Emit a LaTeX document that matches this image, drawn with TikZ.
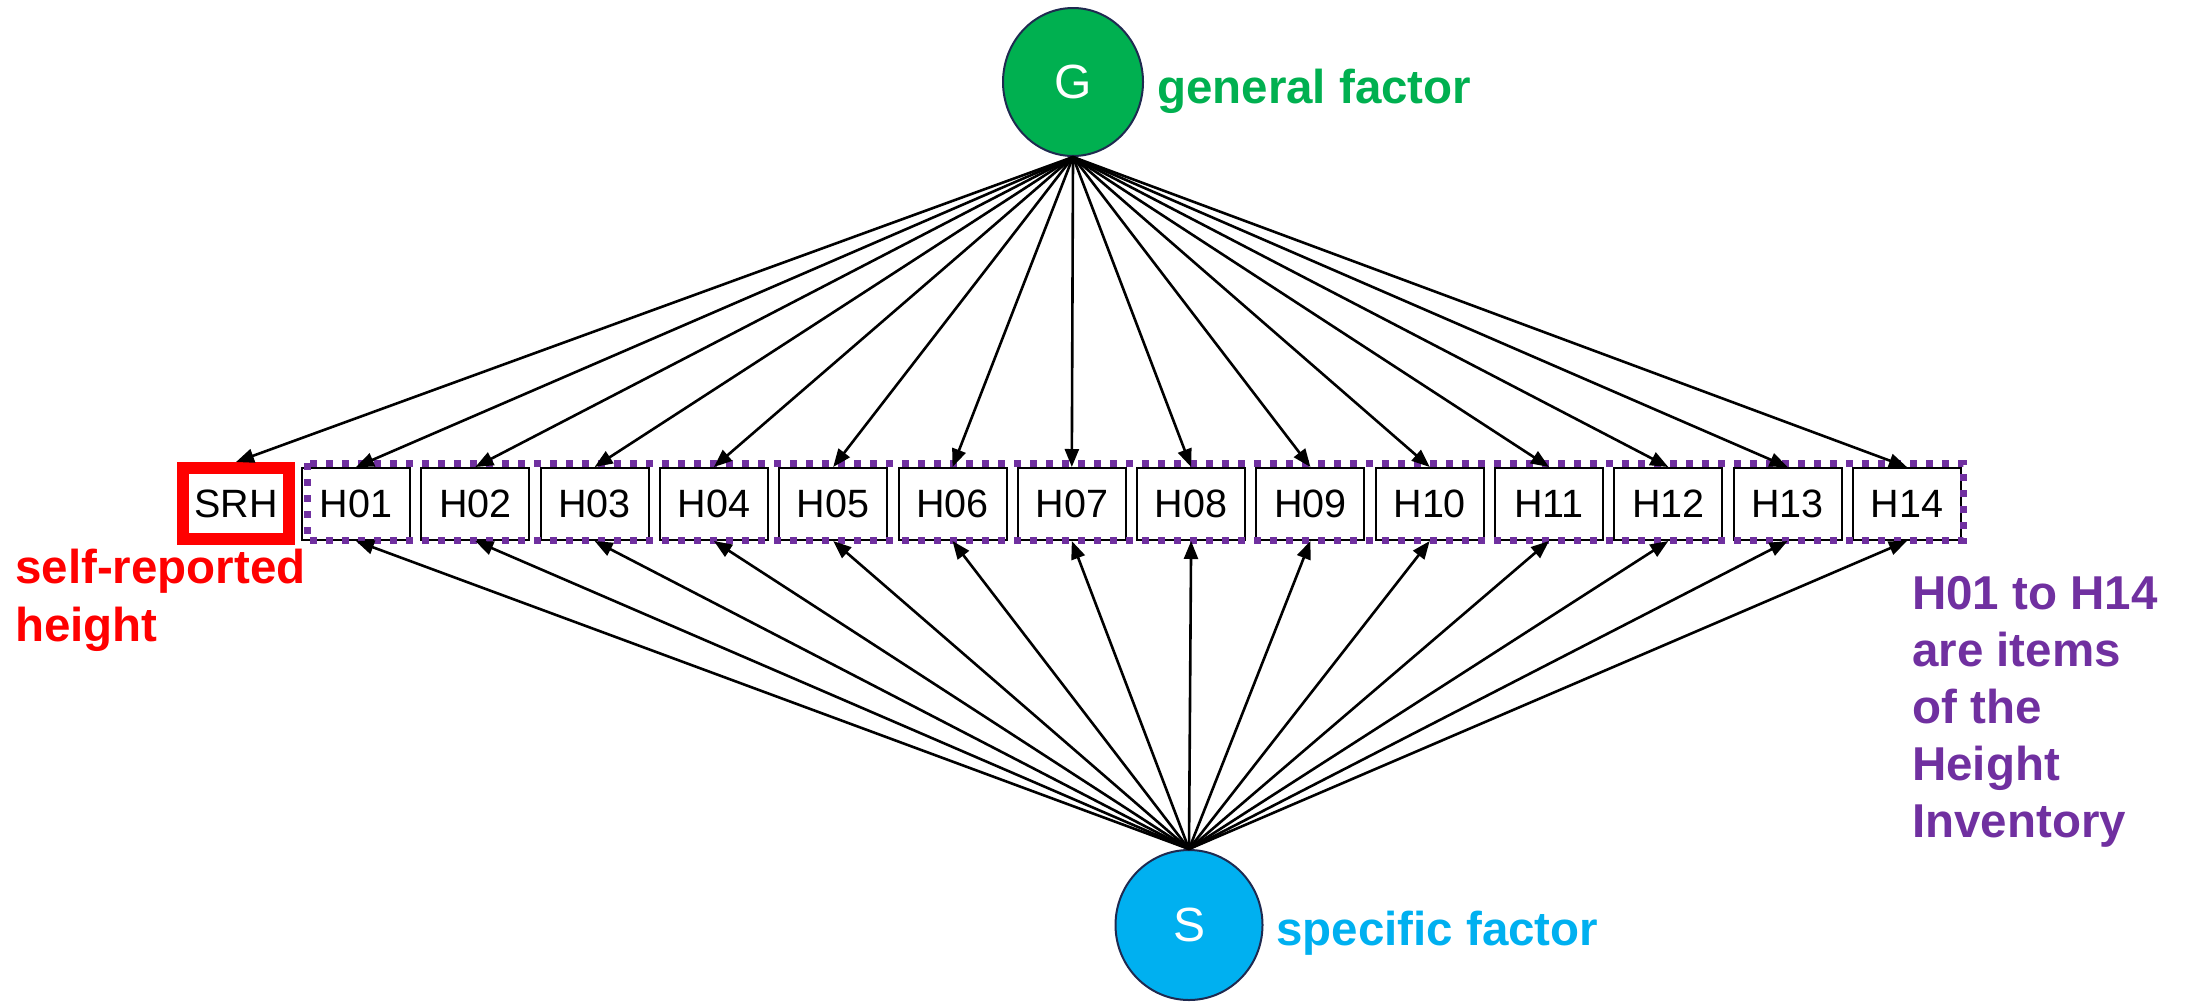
\documentclass[tikz,border=0pt]{standalone}
\usepackage{fontspec}
\setmainfont{Liberation Sans}
\usetikzlibrary{arrows.meta,shapes.geometric}
\definecolor{gfill}{HTML}{00B050}
\definecolor{sfill}{HTML}{00B0F0}
\definecolor{purp}{HTML}{7030A0}
\definecolor{navy}{HTML}{1F2A50}
\begin{document}
\begin{tikzpicture}[x=1pt,y=-1pt,
  item/.style={draw=black, line width=2pt, minimum width=108pt, minimum height=72pt, inner sep=0pt, font=\fontsize{39.5}{46}\selectfont},
  factor/.style={ellipse, draw=navy, line width=2pt, inner sep=0pt, text=white, font=\fontsize{48}{56}\selectfont},
  load/.style={line width=2.6pt, -{Triangle[length=18pt,width=14pt]}},
  lbl/.style={font=\bfseries\fontsize{47.5}{58}\selectfont, inner sep=0pt, align=left},
  grp/.style={draw=purp, line width=7pt, dash pattern=on 7pt off 9pt}]
\useasboundingbox (0,0) rectangle (2191,1002);
\node[factor, fill=gfill, minimum width=140pt, minimum height=148pt] (G) at (1073,82) {G};
\node[factor, fill=sfill, minimum width=147pt, minimum height=150pt] (S) at (1189,925) {S};
\node[item, draw=red, line width=12pt, minimum width=106pt, minimum height=71pt] (SRH) at (236,503.5) {SRH};
\foreach \i [evaluate=\i as \x using 356+(\i-1)*119.3] in {1,...,14} {
  \node[item] (H\i) at (\x,504) {H\ifnum\i<10 0\fi\i};
}
\draw[grp] (307,463) rectangle (1963,540);
\draw[load] (G.south) -- (SRH.north);
\foreach \i in {1,...,14} {
  \draw[load] (G.south) -- (H\i.north);
  \draw[load] (S.north) -- (H\i.south);
}
\node[lbl, text=gfill, anchor=base west] (gl) at (1157,103) {general factor};
\node[lbl, text=sfill, anchor=base west] (sl) at (1276,945) {specific factor};
\node[lbl, text=red, anchor=north west] (rl) at (15,549) {self-reported\\height};
\node[lbl, text=purp, anchor=north west, font=\bfseries\fontsize{47.5}{57}\selectfont] (pl) at (1912,576) {H01 to H14\\are items\\of the\\Height\\Inventory};
\end{tikzpicture}
\end{document}
